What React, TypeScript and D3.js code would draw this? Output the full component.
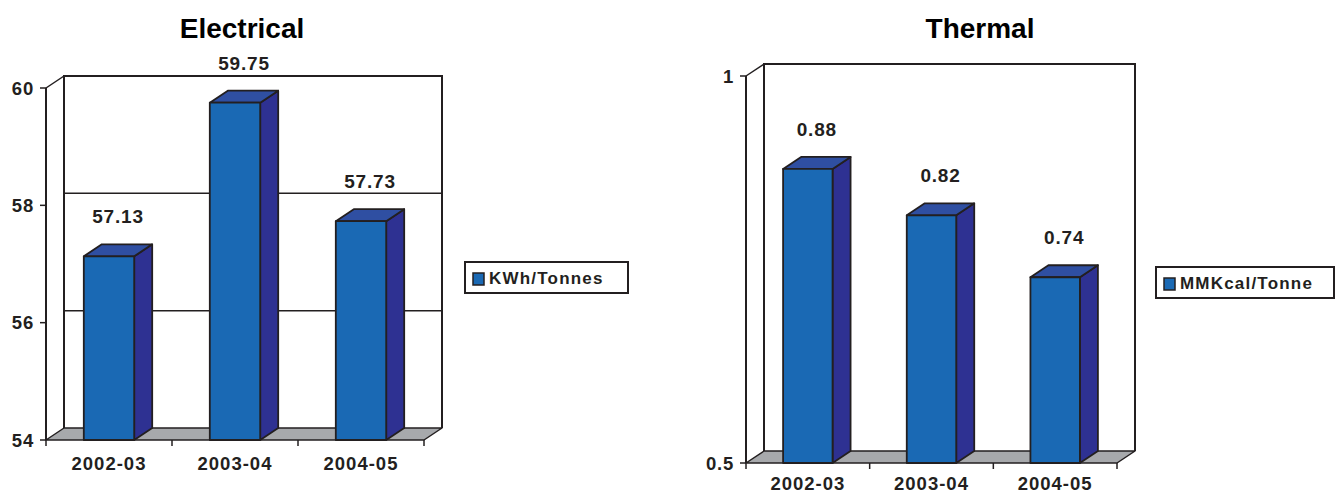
import React from "react";
import * as d3 from "d3";

const categories = ["2002-03", "2003-04", "2004-05"];
const electricalValues = [57.13, 59.75, 57.73];
const thermalValues = [0.88, 0.82, 0.74];
const electricalTicks = [54, 56, 58, 60];
const electricalGrid = [56, 58];
const thermalTicks = [0.5, 1];
const electricalTickLabels = ["54", "56", "58", "60"];
const thermalTickLabels = ["0.5", "1"];

const INK = "#231f20";
const FRONT = "#1a69b4";
const SIDE = "#2e3192";
const TOP = "#2f4fa2";
const FLOOR = "#a7a9ac";
const FONT = "Liberation Sans, Arial, sans-serif";

type ChartProps = {
  title: string;
  titleX: number;
  values: number[];
  domain: [number, number];
  ticks: number[];
  tickLabels: string[];
  grid: number[];
  x0: number;
  x1: number;
  yTop: number;
  yBottom: number;
  catOffset: number;
  legend: string;
  legendBox: [number, number, number, number];
  fmt: (v: number) => string;
};

const DX = 18;
const DY = 12;

function Chart3D(p: ChartProps) {
  const y = d3.scaleLinear().domain(p.domain).range([p.yBottom, p.yTop]);
  const x = d3
    .scaleBand<string>()
    .domain(categories)
    .range([p.x0, p.x1])
    .paddingInner(0.6)
    .paddingOuter(0.3);
  const step = x.step();
  const bw = x.bandwidth();
  const bx0 = p.x0 + DX;
  const bx1 = p.x1 + DX;
  const byTop = p.yTop - DY;
  const byBot = p.yBottom - DY;
  const [lx, ly, lw, lh] = p.legendBox;
  return (
    <g>
      <text
        x={p.titleX}
        y={38}
        textAnchor="middle"
        fontFamily={FONT}
        fontWeight="bold"
        fontSize={28}
        fill="#000"
      >
        {p.title}
      </text>
      {/* back wall */}
      <path
        d={`M${bx0},${byBot} L${bx0},${byTop} L${bx1},${byTop} L${bx1},${byBot}`}
        fill="none"
        stroke={INK}
        strokeWidth={2}
      />
      {p.grid.map((g) => (
        <line
          key={g}
          x1={bx0}
          x2={bx1}
          y1={y(g) - DY}
          y2={y(g) - DY}
          stroke={INK}
          strokeWidth={1.5}
        />
      ))}
      {/* side wall top edge */}
      <line x1={p.x0} y1={p.yTop} x2={bx0} y2={byTop} stroke={INK} strokeWidth={1.5} />
      {/* floor */}
      <path
        d={`M${p.x0},${p.yBottom} L${bx0},${byBot} L${bx1},${byBot} L${p.x1},${p.yBottom} Z`}
        fill={FLOOR}
        stroke={INK}
        strokeWidth={1.5}
        strokeLinejoin="round"
      />
      {/* y axis */}
      <line x1={p.x0} y1={p.yTop} x2={p.x0} y2={p.yBottom} stroke={INK} strokeWidth={2} />
      {p.ticks.map((t, i) => (
        <g key={t}>
          <line x1={p.x0 - 6} x2={p.x0} y1={y(t)} y2={y(t)} stroke={INK} strokeWidth={1.5} />
          <text
            x={p.x0 - 12}
            y={y(t) + 6.5}
            textAnchor="end"
            fontFamily={FONT}
            fontWeight="bold"
            fontSize={18.5}
            letterSpacing={0.8}
            fill={INK}
          >
            {p.tickLabels[i]}
          </text>
        </g>
      ))}
      {/* x axis ticks */}
      {d3.range(categories.length + 1).map((i) => (
        <line
          key={i}
          x1={p.x0 + i * step}
          x2={p.x0 + i * step}
          y1={p.yBottom}
          y2={p.yBottom + 6}
          stroke={INK}
          strokeWidth={1.5}
        />
      ))}
      {categories.map((c) => (
        <text
          key={c}
          x={(x(c) as number) + bw / 2}
          y={p.yBottom + p.catOffset}
          textAnchor="middle"
          fontFamily={FONT}
          fontWeight="bold"
          fontSize={18.5}
          letterSpacing={1}
          fill={INK}
        >
          {c}
        </text>
      ))}
      {/* bars */}
      {categories.map((c, i) => {
        const v = p.values[i];
        const fx = x(c) as number;
        const fy = y(v);
        const fb = p.yBottom;
        return (
          <g key={c} stroke={INK} strokeWidth={1.8} strokeLinejoin="round">
            <path
              d={`M${fx + bw},${fb} L${fx + bw + DX},${fb - DY} L${fx + bw + DX},${fy - DY} L${fx + bw},${fy} Z`}
              fill={SIDE}
            />
            <path
              d={`M${fx},${fy} L${fx + DX},${fy - DY} L${fx + bw + DX},${fy - DY} L${fx + bw},${fy} Z`}
              fill={TOP}
            />
            <rect x={fx} y={fy} width={bw} height={fb - fy} fill={FRONT} />
          </g>
        );
      })}
      {categories.map((c, i) => {
        const v = p.values[i];
        const fx = x(c) as number;
        return (
          <text
            key={c}
            x={fx + bw / 2 + DX / 2}
            y={y(v) - DY - 21}
            textAnchor="middle"
            fontFamily={FONT}
            fontWeight="bold"
            fontSize={19}
            letterSpacing={0.8}
            fill={INK}
          >
            {p.fmt(v)}
          </text>
        );
      })}
      {/* legend */}
      <rect x={lx} y={ly} width={lw} height={lh} fill="#fff" stroke={INK} strokeWidth={2} />
      <rect x={lx + 8} y={ly + 11} width={11} height={12} fill={FRONT} stroke={INK} strokeWidth={1.5} />
      <text
        x={lx + 24}
        y={ly + 22}
        fontFamily={FONT}
        fontWeight="bold"
        fontSize={17}
        letterSpacing={1.2}
        fill={INK}
      >
        {p.legend}
      </text>
    </g>
  );
}

export default function App() {
  return (
    <svg
      width={1336}
      height={494}
      style={{ position: "absolute", left: 0, top: 0, background: "#fff" }}
    >
      <rect width={1336} height={494} fill="#fff" />
      <Chart3D
        title="Electrical"
        titleX={242}
        values={electricalValues}
        domain={[54, 60]}
        ticks={electricalTicks}
        tickLabels={electricalTickLabels}
        grid={electricalGrid}
        x0={46}
        x1={424}
        yTop={88}
        yBottom={440}
        catOffset={30}
        legend="KWh/Tonnes"
        legendBox={[465, 262, 163, 31]}
        fmt={(v) => v.toFixed(2)}
      />
      <Chart3D
        title="Thermal"
        titleX={980}
        values={thermalValues}
        domain={[0.5, 1]}
        ticks={thermalTicks}
        tickLabels={thermalTickLabels}
        grid={[]}
        x0={746}
        x1={1117}
        yTop={76}
        yBottom={463}
        catOffset={27}
        legend="MMKcal/Tonne"
        legendBox={[1156, 267, 178, 31]}
        fmt={(v) => v.toFixed(2)}
      />
    </svg>
  );
}
